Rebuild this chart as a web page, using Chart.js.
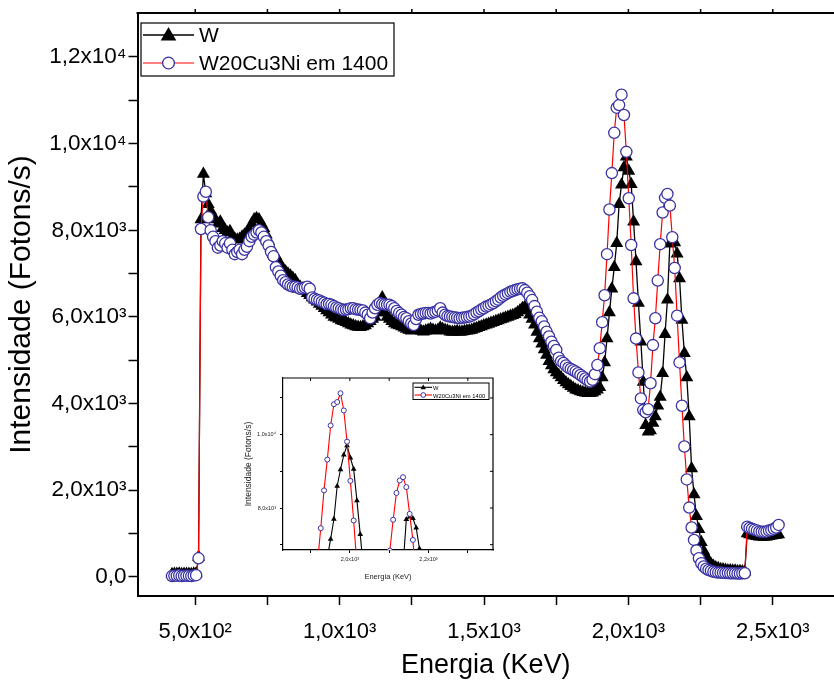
<!DOCTYPE html>
<html><head><meta charset="utf-8">
<script src="https://cdn.jsdelivr.net/npm/chart.js@4/dist/chart.umd.min.js"></script>
<style>
html,body{margin:0;padding:0;background:#fff;overflow:hidden}
#wrap{position:relative;width:834px;height:683px;background:#fff}
#main{position:absolute;left:0;top:0}
#inset{position:absolute;left:230px;top:370px}
</style></head><body>
<div id="wrap">
<canvas id="main" width="834" height="683"></canvas>
<canvas id="inset" width="270" height="220"></canvas>
</div>
<script>
// ---------------- data ----------------
const energy = [
419.4,427.7,436.1,444.5,452.9,461.2,469.6,478.0,486.3,494.7,503.1,511.4,519.8,528.2,536.6,544.9,553.3,561.7,570.0,578.4,
586.8,595.1,603.5,611.9,620.3,628.6,637.0,645.4,653.7,662.1,670.5,678.8,687.2,695.6,704.0,712.3,720.7,729.1,737.4,745.8,
754.2,762.5,770.9,779.3,787.7,796.0,804.4,812.8,821.1,829.5,837.9,846.2,854.6,863.0,871.4,879.7,888.1,896.5,904.8,913.2,
921.6,929.9,938.3,946.7,955.1,963.4,971.8,980.2,988.5,996.9,1005.3,1013.6,1022.0,1030.4,1038.8,1047.1,1055.5,1063.9,1072.2,1080.6,
1089.0,1097.3,1105.7,1114.1,1122.5,1130.8,1139.2,1147.6,1155.9,1164.3,1172.7,1181.0,1189.4,1197.8,1206.2,1214.5,1222.9,1231.3,1239.6,1248.0,
1256.4,1264.7,1273.1,1281.5,1289.9,1298.2,1306.6,1315.0,1323.3,1331.7,1340.1,1348.4,1356.8,1365.2,1373.6,1381.9,1390.3,1398.7,1407.0,1415.4,
1423.8,1432.1,1440.5,1448.9,1457.3,1465.6,1474.0,1482.4,1490.7,1499.1,1507.5,1515.8,1524.2,1532.6,1541.0,1549.3,1557.7,1566.1,1574.4,1582.8,
1591.2,1599.5,1607.9,1616.3,1624.7,1633.0,1641.4,1649.8,1658.1,1666.5,1674.9,1683.2,1691.6,1700.0,1708.4,1716.7,1725.1,1733.5,1741.8,1750.2,
1758.6,1766.9,1775.3,1783.7,1792.1,1800.4,1808.8,1817.2,1825.5,1833.9,1842.3,1850.6,1859.0,1867.4,1875.8,1884.1,1892.5,1900.9,1909.2,1917.6,
1926.0,1934.3,1942.7,1951.1,1959.5,1967.8,1976.2,1984.6,1992.9,2001.3,2009.7,2018.0,2026.4,2034.8,2043.2,2051.5,2059.9,2068.3,2076.6,2085.0,
2093.4,2101.7,2110.1,2118.5,2126.9,2135.2,2143.6,2152.0,2160.3,2168.7,2177.1,2185.4,2193.8,2202.2,2210.6,2218.9,2227.3,2235.7,2244.0,2252.4,
2260.8,2269.1,2277.5,2285.9,2294.3,2302.6,2311.0,2319.4,2327.7,2336.1,2344.5,2352.8,2361.2,2369.6,2378.0,2386.3,2394.7,2403.1,2411.4,2419.8,
2428.2,2436.5,2444.9,2453.3,2461.7,2470.0,2478.4,2486.8,2495.1,2503.5,2511.9,2520.2
];
const intensityW = [
60,70,65,75,60,70,65,70,60,75,80,460,8250,9300,8850,8600,8450,8300,8250,8150,
8200,8050,8000,7950,7980,7850,7800,7780,7800,7850,7900,7950,8000,8150,8250,8280,8250,8150,8050,7900,
7750,7600,7450,7400,7300,7200,7100,7050,7000,6950,6900,6850,6750,6700,6650,6600,6550,6500,6450,6400,
6350,6300,6250,6200,6150,6100,6050,6000,5980,5950,5920,5900,5880,5850,5820,5800,5780,5770,5760,5780,
5800,5850,5900,5950,6000,6100,6150,6450,6100,6000,5950,5900,5850,5820,5800,5780,5750,5720,5700,5680,
5700,5720,5700,5680,5660,5680,5700,5720,5700,5680,5700,5750,5720,5700,5680,5660,5650,5660,5670,5650,
5660,5670,5680,5690,5700,5720,5740,5760,5780,5800,5820,5840,5860,5880,5900,5920,5940,5960,5980,6000,
6020,6040,6060,6100,6150,6200,6230,6150,6050,5950,5820,5650,5500,5380,5250,5120,4980,4880,4790,4720,
4660,4600,4540,4490,4440,4400,4360,4320,4300,4280,4260,4250,4240,4240,4250,4280,4320,4380,4600,4950,
5500,6100,6650,7150,7700,8600,9050,9450,9700,9370,9060,8200,7280,6320,5430,4500,3500,3350,3380,3550,
3700,3950,4150,4700,5600,6400,7690,7760,7720,7460,6890,5930,5160,4600,3700,2500,1900,1400,1100,800,
600,480,380,300,250,220,200,180,170,160,150,150,140,140,130,130,125,120,1000,980,
960,950,940,930,930,920,930,940,950,960,970,980
];
const intensityW20Cu3Ni = [
20,30,25,35,20,30,25,30,20,35,40,430,8030,8780,8890,8300,8000,7850,7750,7600,
7650,7750,7700,7600,7700,7550,7450,7500,7550,7450,7550,7620,7750,7850,7900,7950,8000,7950,7850,7750,
7650,7500,7400,7150,7050,6950,6850,6800,6750,6720,6700,6700,6680,6650,6660,6680,6700,6650,6450,6420,
6400,6380,6350,6330,6300,6300,6280,6250,6220,6200,6180,6160,6170,6180,6200,6200,6180,6170,6160,6150,
6100,6050,5970,6100,6200,6280,6320,6300,6290,6280,6280,6250,6200,6140,6090,6050,6000,5970,5900,5850,
5815,5950,6050,6070,6080,6090,6090,6080,6100,6120,6150,6200,6100,6050,6020,6010,6000,5990,5980,5970,
5980,5990,6000,6010,6030,6060,6100,6130,6170,6200,6240,6260,6290,6320,6360,6400,6450,6490,6520,6550,
6580,6600,6620,6640,6650,6660,6620,6560,6480,6390,6250,6120,5980,5900,5780,5660,5550,5430,5330,5240,
5060,4980,4940,4880,4830,4800,4770,4740,4700,4660,4620,4580,4540,4510,4550,4680,4890,5280,5880,6500,
7450,8480,9320,10250,10830,10890,11130,10660,9810,8740,7660,6430,5500,4720,4120,3850,3800,3870,4470,5350,
5970,6840,7680,8410,8750,8840,8570,7840,7130,6030,4950,3950,3010,2250,1600,1140,855,610,430,315,
240,190,160,140,120,110,100,100,95,90,90,85,85,85,80,80,85,85,1160,1130,
1110,1090,1070,1050,1045,1045,1050,1070,1085,1110,1140,1200
];
const seriesLabels = ['W', 'W20Cu3Ni em 1400'];

// main chart ticks
const xTickValues = [500, 750, 1000, 1250, 1500, 1750, 2000, 2250, 2500];
const xTickLabels = ['5,0x10²', '', '1,0x10³', '', '1,5x10³', '', '2,0x10³', '', '2,5x10³'];
const yTickValues = [0, 1000, 2000, 3000, 4000, 5000, 6000, 7000, 8000, 9000, 10000, 11000, 12000];
const yTickLabels = ['0,0', '', '2,0x10³', '', '4,0x10³', '', '6,0x10³', '', '8,0x10³', '', '1,0x10⁴', '', '1,2x10⁴'];
// inset ticks
const insetXTickValues = [1900, 2000, 2100, 2200, 2300];
const insetXTickLabels = ['', '2,0x10³', '', '2,2x10³', ''];
const insetYTickValues = [7000, 8000, 9000, 10000, 11000];
const insetYTickLabels = ['', '8,0x10³', '', '1,0x10⁴', ''];
const xTitle = 'Energia (KeV)';
const yTitle = 'Intensidade (Fotons/s)';

// ---------------- drawing ----------------
const FONT = '"Liberation Sans", Arial, Helvetica, sans-serif';
Chart.defaults.font.family = FONT;
Chart.defaults.color = '#000';

function drawMarker(ctx, style, x, y, r, fill, stroke, bw) {
  ctx.beginPath();
  if (style === 'triangle') {
    for (let k = 0; k < 3; k++) {
      const a = k * 2 * Math.PI / 3;
      const px = x + Math.sin(a) * r, py = y - Math.cos(a) * r;
      k ? ctx.lineTo(px, py) : ctx.moveTo(px, py);
    }
    ctx.closePath();
  } else {
    ctx.arc(x, y, r, 0, Math.PI * 2);
  }
  ctx.fillStyle = fill; ctx.fill();
  if (bw > 0) { ctx.strokeStyle = stroke; ctx.lineWidth = bw; ctx.stroke(); }
}

const boxLegend = {
  id: 'boxLegend',
  afterDraw(chart, args, o) {
    const ctx = chart.ctx;
    ctx.save();
    ctx.fillStyle = '#fff';
    ctx.fillRect(o.x, o.y, o.w, o.h);
    ctx.strokeStyle = '#000'; ctx.lineWidth = o.frame;
    ctx.strokeRect(o.x, o.y, o.w, o.h);
    const list = [...chart.data.datasets].sort((a, b) => a.legendIndex - b.legendIndex);
    list.forEach((ds, k) => {
      const yy = o.rows[k];
      ctx.beginPath();
      ctx.strokeStyle = ds.borderColor; ctx.lineWidth = ds.borderWidth;
      ctx.moveTo(o.lx0, yy); ctx.lineTo(o.lx1, yy); ctx.stroke();
      const tri = ds.pointStyle === 'triangle';
      drawMarker(ctx, ds.pointStyle, (o.lx0 + o.lx1) / 2, yy + (tri ? o.triShift : 0),
        ds.pointRadius * (tri ? o.triScale : o.circScale), ds.pointBackgroundColor, ds.pointBorderColor, ds.pointBorderWidth);
      ctx.fillStyle = '#000';
      ctx.font = o.fontSize + 'px ' + FONT;
      ctx.textBaseline = 'middle';
      ctx.textAlign = 'left';
      ctx.fillText(ds.label, o.tx, yy + 1);
    });
    ctx.restore();
  }
};

const frame = {
  id: 'frame',
  afterDraw(chart, args, o) {
    const {ctx, chartArea: a, scales} = chart;
    ctx.save();
    ctx.strokeStyle = '#000'; ctx.lineWidth = o.width;
    ctx.beginPath();
    const rightEnd = o.right ? a.right + o.width / 2 : chart.width;
    ctx.moveTo(a.left - o.width / 2, a.top); ctx.lineTo(rightEnd, a.top);
    if (o.right) { ctx.moveTo(a.right, a.top); ctx.lineTo(a.right, a.bottom + o.width / 2); }
    ctx.stroke();
    ctx.lineWidth = o.tickWidth;
    ctx.beginPath();
    scales.x.ticks.forEach(t => {
      const px = scales.x.getPixelForValue(t.value);
      ctx.moveTo(px, a.top); ctx.lineTo(px, a.top + o.topDir * o.tickLen);
    });
    if (o.right) {
      scales.y.ticks.forEach(t => {
        const py = scales.y.getPixelForValue(t.value);
        ctx.moveTo(a.right, py); ctx.lineTo(a.right - o.tickLen, py);
      });
    }
    ctx.stroke();
    ctx.restore();
  }
};

function makeDatasets(rTri, rCirc, lwBlack, lwRed, cbw) {
  return [
    { label: seriesLabels[0], legendIndex: 0, order: 1,
      data: energy.map((e, i) => ({x: e, y: intensityW[i]})),
      borderColor: '#000000', borderWidth: lwBlack, tension: 0,
      pointStyle: 'triangle', pointRadius: rTri, pointBackgroundColor: '#000000',
      pointBorderColor: '#000000', pointBorderWidth: 0 },
    { label: seriesLabels[1], legendIndex: 1, order: 0,
      data: energy.map((e, i) => ({x: e, y: intensityW20Cu3Ni[i]})),
      borderColor: '#ff0000', borderWidth: lwRed, tension: 0,
      pointStyle: 'circle', pointRadius: rCirc, pointBackgroundColor: '#ffffff',
      pointBorderColor: '#3a33a3', pointBorderWidth: cbw }
  ];
}

function lookup(vals, labels) { return (v) => { const k = vals.indexOf(v); return k < 0 ? '' : labels[k]; }; }

new Chart(document.getElementById('main'), {
  type: 'line',
  data: { datasets: makeDatasets(7.5, 5.6, 1.3, 1.2, 1.3) },
  plugins: [frame, boxLegend],
  options: {
    responsive: false, animation: false, devicePixelRatio: 1,
    layout: { autoPadding: false, padding: { left: 0, top: 13, right: 0, bottom: 0 } },
    plugins: {
      legend: { display: false }, tooltip: { enabled: false },
      frame: { width: 2, tickWidth: 1.5, tickLen: 4, topDir: -1, right: false },
      boxLegend: { x: 141, y: 23, w: 253, h: 53, frame: 1.2, rows: [35, 63], lx0: 143, lx1: 194, tx: 199,
                   fontSize: 21, triScale: 1.2, circScale: 1.05, triShift: 1 }
    },
    scales: {
      x: {
        type: 'linear', min: 300, max: 2712,
        afterFit(s) { s.height = 87; s.paddingRight = 0; s.paddingLeft = 0; },
        afterBuildTicks(s) { s.ticks = xTickValues.map(v => ({value: v})); },
        ticks: { callback: lookup(xTickValues, xTickLabels), autoSkip: false, maxRotation: 0,
                 font: { size: 22 }, padding: 14, color: '#000' },
        grid: { drawOnChartArea: false, drawTicks: true, tickLength: 9, color: '#000', tickWidth: 1.5 },
        border: { display: true, color: '#000', width: 2 },
        title: { display: true, text: xTitle, font: { size: 27 }, padding: { top: 0, bottom: 1 }, color: '#000' }
      },
      y: {
        type: 'linear', min: -440, max: 13015,
        afterFit(s) { s.width = 137.5; s.paddingTop = 0; s.paddingBottom = 0; },
        afterBuildTicks(s) { s.ticks = yTickValues.map(v => ({value: v})); },
        ticks: { callback: lookup(yTickValues, yTickLabels), autoSkip: false,
                 font: { size: 22.5 }, padding: 2, color: '#000' },
        grid: { drawOnChartArea: false, drawTicks: true, tickLength: 9, color: '#000', tickWidth: 1.5 },
        border: { display: true, color: '#000', width: 2 },
        title: { display: true, text: yTitle, font: { size: 30 }, padding: { top: 4, bottom: 0 }, color: '#000' }
      }
    }
  }
});

new Chart(document.getElementById('inset'), {
  type: 'line',
  data: { datasets: makeDatasets(3.3, 2.5, 1.1, 1.1, 1.0) },
  plugins: [frame, boxLegend],
  options: {
    responsive: false, animation: false, devicePixelRatio: 1,
    layout: { autoPadding: false, padding: { left: 0, top: 8, right: 7, bottom: 0 } },
    plugins: {
      legend: { display: false }, tooltip: { enabled: false },
      frame: { width: 1.2, tickWidth: 1, tickLen: 3, topDir: 1, right: true },
      boxLegend: { x: 183, y: 13, w: 76, h: 16.5, frame: 1, rows: [17.3, 25], lx0: 184.5, lx1: 202, tx: 203,
                   fontSize: 5.8, triScale: 0.95, circScale: 0.95, triShift: 0.3 }
    },
    scales: {
      x: {
        type: 'linear', min: 1830, max: 2364,
        afterFit(s) { s.height = 40; s.paddingRight = 0; s.paddingLeft = 0; },
        afterBuildTicks(s) { s.ticks = insetXTickValues.map(v => ({value: v})); },
        ticks: { callback: lookup(insetXTickValues, insetXTickLabels), autoSkip: false, maxRotation: 0,
                 font: { size: 5.5 }, padding: 3, color: '#222' },
        grid: { drawOnChartArea: false, drawTicks: true, tickLength: 3, color: '#000', tickWidth: 1 },
        border: { display: true, color: '#000', width: 1.2 },
        title: { display: true, text: xTitle, font: { size: 7.5 }, padding: { top: 0, bottom: 9 }, color: '#222' }
      },
      y: {
        type: 'linear', min: 6855, max: 11545,
        afterFit(s) { s.width = 53; s.paddingTop = 0; s.paddingBottom = 0; },
        afterBuildTicks(s) { s.ticks = insetYTickValues.map(v => ({value: v})); },
        ticks: { callback: lookup(insetYTickValues, insetYTickLabels), autoSkip: false,
                 font: { size: 5.5 }, padding: 4, color: '#222' },
        grid: { drawOnChartArea: false, drawTicks: true, tickLength: 3, color: '#000', tickWidth: 1 },
        border: { display: true, color: '#000', width: 1.2 },
        title: { display: true, text: yTitle, font: { size: 8.5 }, padding: { top: 14, bottom: 0 }, color: '#222' }
      }
    }
  }
});
</script>
</body></html>
